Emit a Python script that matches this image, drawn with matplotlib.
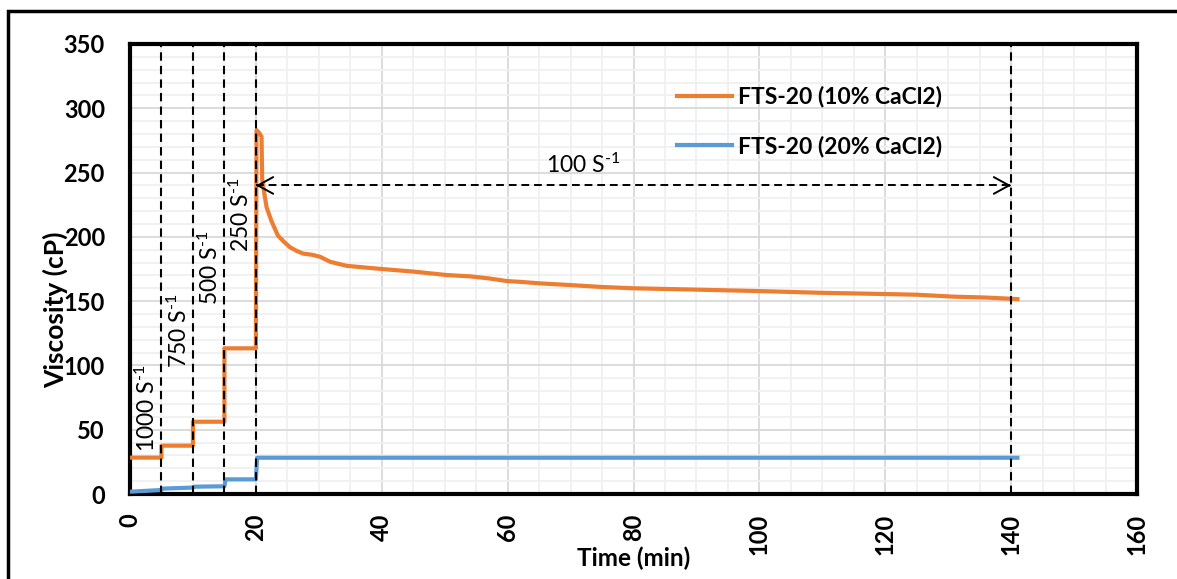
import matplotlib
matplotlib.use("Agg")
import matplotlib.pyplot as plt
from matplotlib.patches import Rectangle
import numpy as np

plt.rcParams['font.family'] = ['Lato', 'DejaVu Sans']
plt.rcParams['mathtext.fontset'] = 'custom'
plt.rcParams['mathtext.rm'] = 'Lato'
plt.rcParams['mathtext.it'] = 'Lato'
plt.rcParams['mathtext.bf'] = 'Lato:bold'

# --- data ---
time_10 = [0, 5, 5, 10, 10, 15, 15, 20, 20.1, 20.5, 20.9, 21.0, 21.3, 21.7, 22.5, 23.5, 24.5, 25.4,
           26.5, 27.5, 29.0, 30.2, 31.8, 34.4, 37.0, 40.0, 45.0, 50.3, 54.0, 57.0, 59.9, 62.0,
           65.2, 70.0, 75.0, 80.0, 89.5, 100.2, 109.7, 120.3, 125.0, 130.8, 136.0, 141.0]
visc_10 = [28.3, 28.3, 37.6, 37.6, 56.2, 56.2, 113.3, 113.3, 283, 281, 278, 245, 235, 223, 212, 201,
           196, 192, 189, 187, 186, 184.5, 180.6, 177.5, 176.3, 175, 173, 170.3, 169.3, 167.7,
           165.6, 165, 163.8, 162.5, 161, 160, 159, 157.8, 156.5, 155.5, 155, 153.5, 152.8, 151.6]

time_20 = [0, 5, 5.2, 10, 10.3, 15, 15.2, 20, 20.2, 141]
visc_20 = [1.8, 3.1, 4.2, 5.0, 5.7, 6.0, 11.4, 11.4, 28.2, 28.2]

series_labels = ['FTS-20 (10% CaCl2)', 'FTS-20 (20% CaCl2)']
shear_lines = [5, 10, 15, 20, 140]
shear_labels = [r'1000 S$^{\text{-1}}$', r'750 S$^{\text{-1}}$', r'500 S$^{\text{-1}}$',
                r'250 S$^{\text{-1}}$']
shear_label_pos = [(2.6, 67), (7.8, 127), (12.7, 176), (17.6, 217)]
arrow_y = 240
arrow_x = (20, 140)
arrow_label = r'100 S$^{\text{-1}}$'
arrow_label_pos = (72.0, 256)

orange = '#ED7D31'
blue = '#5B9BD5'
FS = 16.5

fig = plt.figure(figsize=(11.77, 5.79), dpi=100)
ax = fig.add_axes([130/1177, (579-494)/579, (1137-130)/1177, (494-44)/579])

# outer frame
fig.patches.append(Rectangle((8/1177, -0.05), 1.2, (579-11)/579 + 0.05,
                             transform=fig.transFigure, fill=False,
                             edgecolor='black', linewidth=2.5, zorder=0))

ax.set_xlim(0, 160)
ax.set_ylim(0, 350)
ax.set_xticks(np.arange(0, 161, 20))
ax.set_yticks(np.arange(0, 351, 50))
ax.set_xticks(np.arange(0, 161, 5), minor=True)
ax.set_yticks(np.arange(0, 351, 10), minor=True)
ax.grid(which='major', color='#D9D9D9', linewidth=1.3, zorder=0)
ax.grid(which='minor', color='#F0F0F0', linewidth=1.3, zorder=0)
ax.set_axisbelow(True)
ax.tick_params(which='both', length=0)
ax.tick_params(axis='x', labelrotation=90, pad=14)
ax.tick_params(axis='y', pad=18)
for lab in ax.get_xticklabels() + ax.get_yticklabels():
    lab.set_fontweight('bold')
    lab.set_fontsize(17)
for s in ax.spines.values():
    s.set_linewidth(3)
    s.set_color('black')

ax.plot(time_10, visc_10, color=orange, linewidth=3, label=series_labels[0], zorder=3)
ax.plot(time_20, visc_20, color=blue, linewidth=3, label=series_labels[1], zorder=3)

for xv in shear_lines:
    ax.plot([xv, xv], [0, 350], color='black', linestyle=(0, (4, 2.5)), linewidth=1.5, zorder=4)

for lbl, (xp, yp) in zip(shear_labels, shear_label_pos):
    ax.text(xp, yp, lbl, rotation=90, ha='center', va='center', fontsize=FS, zorder=5)

# dashed double arrow
ax.plot(list(arrow_x), [arrow_y, arrow_y], color='black', linestyle=(0, (4, 2.5)),
        linewidth=1.4, zorder=5)
ax.annotate('', xy=(arrow_x[0], arrow_y), xytext=(arrow_x[0] + 0.5, arrow_y),
            arrowprops=dict(arrowstyle='->,head_length=0.55,head_width=0.3', color='black',
                            linewidth=1.4, shrinkA=0, shrinkB=0, mutation_scale=20), zorder=5)
ax.annotate('', xy=(arrow_x[1], arrow_y), xytext=(arrow_x[1] - 0.5, arrow_y),
            arrowprops=dict(arrowstyle='->,head_length=0.55,head_width=0.3', color='black',
                            linewidth=1.4, shrinkA=0, shrinkB=0, mutation_scale=20), zorder=5)
ax.text(arrow_label_pos[0], arrow_label_pos[1], arrow_label, ha='center', va='center', fontsize=FS)

ax.set_xlabel('Time (min)', fontsize=17.5, fontweight='bold')
ax.set_ylabel('Viscosity (cP)', fontsize=19, fontweight='bold')
ax.xaxis.set_label_coords(0.5, -(547 - 494) / 450)
ax.yaxis.set_label_coords((68 - 130) / 1007, 0.41)

leg = ax.legend(loc='upper left', bbox_to_anchor=((677 - 130) / 1007, (494 - 86) / 450),
                frameon=False, prop={'weight': 'bold', 'size': FS}, handlelength=2.4,
                labelspacing=1.2, handletextpad=0.25, borderpad=0, borderaxespad=0)

fig.savefig('out.png', dpi=100)
